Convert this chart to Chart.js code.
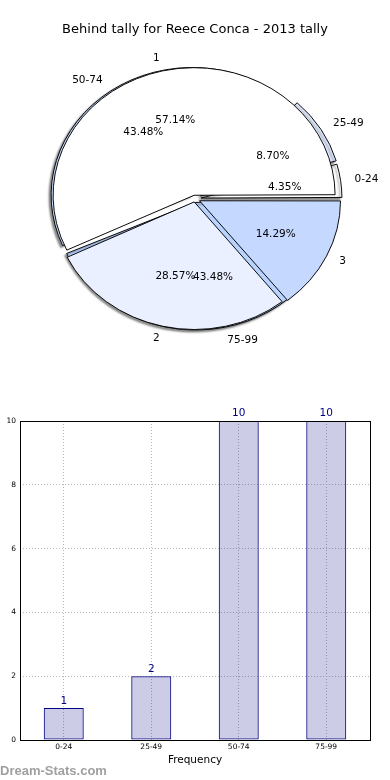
<!DOCTYPE html>
<html>
<head>
<meta charset="utf-8">
<script src="https://cdn.jsdelivr.net/npm/chart.js@4.4.0/dist/chart.umd.min.js"></script>
<style>
    html, body { margin: 0; padding: 0; background: #fff; }
    #wrap { position: relative; width: 390px; height: 780px; overflow: hidden; }
    #pie { position: absolute; left: 0; top: 0; }
    #bars { position: absolute; left: 0; top: 400px; }
</style>
</head>
<body>
<div id="wrap">
    <canvas id="pie" width="390" height="360"></canvas>
    <canvas id="bars" width="390" height="380"></canvas>
</div>
<script>
const chartTitle = "Behind tally for Reece Conca - 2013 tally";

// pie drawn on top: tally groups
const tallyLabels = ["1", "2", "3"];
const tallyValues = [4, 2, 1];
const tallyColors = ["#ffffff", "#eaf0ff", "#c5d8ff"];
const tallyExplode = [4, 3.5, 5];

// pie drawn behind + bar chart: ranges
const rangeLabels = ["0-24", "25-49", "50-74", "75-99"];
const rangeCounts = [1, 2, 10, 10];
const rangeColors = ["#ffffff", "#e2ebff", "#c9dbff", "#b9d3ff"];
const rangeExplode = [6, 6.5, 5, 4];

const countTicks = [0, 2, 4, 6, 8, 10];
const xTitle = "Frequency";
const watermarkText = "Dream-Stats.com";

const R = 141;          // horizontal radius of the pie
const SQUASH = 0.905;   // pie is a bit flatter than wide
const OFFSET_SCALE = 4; // chart.js v4 arc offset is divided by 4 when drawn

const pieSets = [
    { labels: tallyLabels, values: tallyValues, explode: tallyExplode },
    { labels: rangeLabels, values: rangeCounts, explode: rangeExplode }
];

// both pies share the same full radius and are drawn counter-clockwise, flattened
const pieShape = {
    id: "pieShape",
    afterDatasetsUpdate(chart) {
        pieSets.forEach((set, i) => {
            chart.getDatasetMeta(i).data.forEach((arc, j) => {
                // chart.js grows an offset arc's radius, take that back out
                const fix = 1 - Math.sin(Math.min(Math.PI, arc.circumference));
                arc.innerRadius = 0;
                arc.outerRadius = R - set.explode[j] * fix;
            });
        });
    },
    beforeDatasetDraw(chart, args) {
        const ctx = chart.ctx;
        const a = args.meta.data[0];
        ctx.save();
        ctx.translate(a.x, a.y);
        ctx.scale(1, -SQUASH);
        ctx.translate(-a.x, -a.y);
        if (args.index === 1) {
            // only the back pie throws a shadow, so it sits under everything
            ctx.shadowColor = "rgba(0,0,0,0.45)";
            ctx.shadowOffsetX = -2;
            ctx.shadowOffsetY = 2;
            ctx.shadowBlur = 2;
        }
    },
    afterDatasetDraw(chart) {
        chart.ctx.restore();
    }
};

// slice names and percentages, like matplotlib's pie labels
const pieText = {
    id: "pieText",
    afterDraw(chart) {
        const ctx = chart.ctx;
        ctx.save();
        ctx.font = "10.5px 'DejaVu Sans'";
        ctx.fillStyle = "#000";
        ctx.textBaseline = "middle";
        pieSets.forEach((set, i) => {
            const meta = chart.getDatasetMeta(i);
            const total = set.values.reduce((s, v) => s + v, 0);
            meta.data.forEach((arc, j) => {
                const mid = (arc.startAngle + arc.endAngle) / 2;
                const c = Math.cos(mid), s = Math.sin(mid);
                const at = d => [arc.x + c * d, arc.y - s * d * SQUASH];
                let [lx, ly] = at(R * 1.1 + set.explode[j]);
                ctx.textAlign = c >= 0 ? "left" : "right";
                ctx.fillText(set.labels[j], lx, ly);
                [lx, ly] = at(R * 0.6 + set.explode[j]);
                ctx.textAlign = "center";
                ctx.fillText((set.values[j] / total * 100).toFixed(2) + "%", lx, ly);
            });
        });
        ctx.restore();
    }
};

new Chart(document.getElementById("pie"), {
    type: "pie",
    data: {
        labels: rangeLabels,
        datasets: [
            {
                data: tallyValues,
                backgroundColor: tallyColors,
                borderColor: "#000",
                borderWidth: 1,
                offset: tallyExplode.map(e => e * OFFSET_SCALE)
            },
            {
                data: rangeCounts,
                backgroundColor: rangeColors,
                borderColor: "#000",
                borderWidth: 1,
                offset: rangeExplode.map(e => e * OFFSET_SCALE)
            }
        ]
    },
    options: {
        responsive: false,
        animation: false,
        rotation: 90,
        radius: R,
        plugins: {
            legend: { display: false },
            tooltip: { enabled: false },
            title: {
                display: true,
                text: chartTitle,
                color: "#000",
                font: { family: "DejaVu Sans", size: 13, weight: "normal" },
                padding: { top: 22, bottom: 0 }
            }
        }
    },
    plugins: [pieShape, pieText]
});

// black box round the plot area
const frame = {
    id: "frame",
    afterDraw(chart) {
        const { left, top, right, bottom } = chart.chartArea;
        const ctx = chart.ctx;
        ctx.save();
        ctx.strokeStyle = "#000";
        ctx.lineWidth = 1;
        ctx.strokeRect(Math.round(left) + 0.5, Math.round(top) + 0.5,
            Math.round(right - left), Math.round(bottom - top));
        ctx.restore();
    }
};

// counts above the bars
const valueLabels = {
    id: "valueLabels",
    afterDatasetsDraw(chart) {
        const ctx = chart.ctx;
        const meta = chart.getDatasetMeta(0);
        ctx.save();
        ctx.font = "10.5px 'DejaVu Sans'";
        ctx.fillStyle = "#000080";
        ctx.textAlign = "center";
        ctx.textBaseline = "bottom";
        meta.data.forEach((bar, i) => {
            ctx.fillText(String(rangeCounts[i]), bar.x, bar.y - 2);
        });
        ctx.restore();
    }
};

const watermark = {
    id: "watermark",
    afterDraw(chart) {
        const ctx = chart.ctx;
        ctx.save();
        ctx.font = "bold 13px 'Liberation Sans'";
        ctx.fillStyle = "#a0a0a0";
        ctx.textAlign = "left";
        ctx.textBaseline = "alphabetic";
        ctx.fillText(watermarkText, 0, 375);
        ctx.restore();
    }
};

const tickFont = { family: "DejaVu Sans", size: 7.5 };

new Chart(document.getElementById("bars"), {
    type: "bar",
    data: {
        labels: rangeLabels,
        datasets: [{
            data: rangeCounts,
            backgroundColor: "rgba(0,0,128,0.2)",
            borderColor: "#000080",
            borderWidth: 1,
            borderSkipped: false,
            barPercentage: 0.457,
            categoryPercentage: 1
        }]
    },
    options: {
        responsive: false,
        animation: false,
        layout: { padding: { top: 21, right: 20, left: 0, bottom: 0 } },
        plugins: {
            legend: { display: false },
            tooltip: { enabled: false }
        },
        scales: {
            x: {
                grid: { offset: false, color: "#b8b8b8", drawTicks: false },
                border: { display: false, dash: [1, 2] },
                ticks: { color: "#000", font: tickFont, padding: 3, maxRotation: 0 },
                title: {
                    display: true,
                    text: xTitle,
                    color: "#000",
                    font: { family: "DejaVu Sans", size: 10.5 },
                    padding: { top: 0, bottom: 13 }
                },
                afterFit: s => { s.height = 40; }
            },
            y: {
                min: 0,
                max: 10,
                grid: { color: "#b8b8b8", drawTicks: false },
                border: { display: false, dash: [1, 2] },
                ticks: { color: "#000", font: tickFont, padding: 4, stepSize: 2 },
                afterBuildTicks: s => { s.ticks = countTicks.map(v => ({ value: v })); },
                afterFit: s => { s.width = 20; }
            }
        }
    },
    plugins: [frame, valueLabels, watermark]
});
</script>
</body>
</html>
